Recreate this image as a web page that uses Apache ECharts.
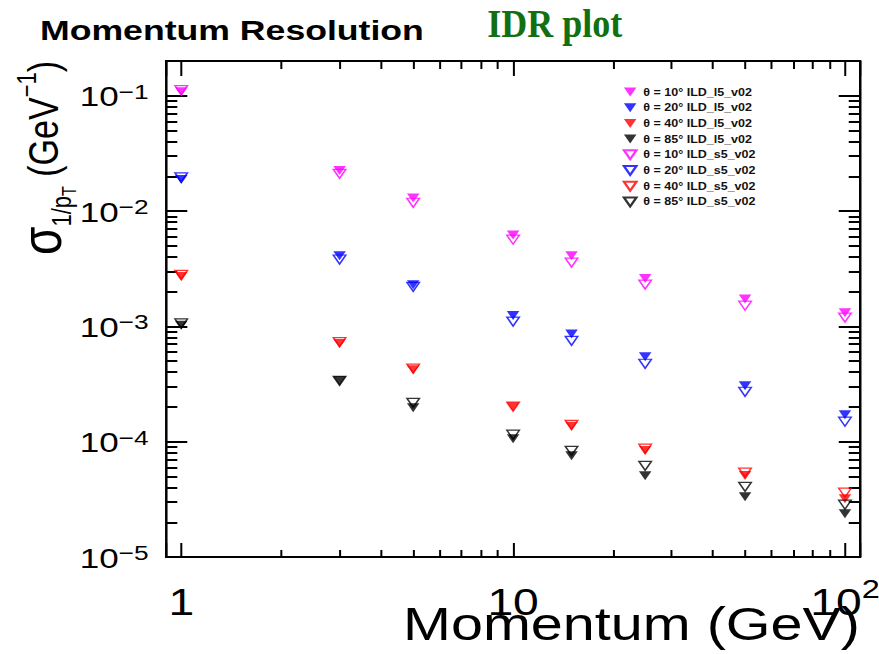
<!DOCTYPE html>
<html>
<head>
<meta charset="utf-8">
<script src="https://cdn.jsdelivr.net/npm/echarts@6/dist/echarts.min.js"></script>
<style>
  html, body { margin: 0; padding: 0; background: #ffffff; overflow: hidden; }
  #page { width: 879px; height: 654px; overflow: hidden; position: relative; background: #ffffff; }
  /* the plot is laid out on a narrower canvas and widened to the page width */
  #chart { width: 703px; height: 654px; transform: scaleX(1.25036); transform-origin: 0 0; }
</style>
</head>
<body>
<div id="page"><div id="chart"></div></div>
<script>
// Beam momentum points (GeV)
const momentum = [1, 3, 5, 10, 15, 25, 50, 100];

// sigma(1/pT) in GeV^-1, large detector model ILD_l5_v02
const l5_theta10 = [0.108, 0.0225, 0.0130, 0.0062, 0.0041, 0.0026, 0.00173, 0.00131];
const l5_theta20 = [0.0188, 0.0041, 0.0023, 0.00124, 0.00086, 0.000545, 0.000306, 0.000171];
const l5_theta40 = [0.0027, 0.00071, 0.00042, 0.000201, 0.000136, 0.000084, 0.000051, 0.000032];
const l5_theta85 = [0.00102, 0.000337, 0.000197, 0.000106, 0.0000755, 0.0000506, 0.0000333, 0.0000237];

// sigma(1/pT) in GeV^-1, small detector model ILD_s5_v02
const s5_theta10 = [0.112, 0.021, 0.0118, 0.00564, 0.00357, 0.0023, 0.00151, 0.00119];
const s5_theta20 = [0.0196, 0.0038, 0.0022, 0.0011, 0.00075, 0.000474, 0.000271, 0.000149];
const s5_theta40 = [0.0028, 0.00073, 0.00043, 0.000201, 0.00014, 0.000087, 0.000054, 0.0000361];
const s5_theta85 = [0.00106, 0.000337, 0.000217, 0.000115, 0.0000834, 0.0000618, 0.0000406, 0.0000284];

const seriesNames = [
  'θ = 10° ILD_l5_v02', 'θ = 20° ILD_l5_v02', 'θ = 40° ILD_l5_v02', 'θ = 85° ILD_l5_v02',
  'θ = 10° ILD_s5_v02', 'θ = 20° ILD_s5_v02', 'θ = 40° ILD_s5_v02', 'θ = 85° ILD_s5_v02'
];
const seriesValues = [l5_theta10, l5_theta20, l5_theta40, l5_theta85,
                      s5_theta10, s5_theta20, s5_theta40, s5_theta85];
const seriesColors = ['#ff00ff', '#0000ff', '#ff0000', '#000000',
                      '#ff00ff', '#0000ff', '#ff0000', '#000000'];
const seriesHollow = [false, false, false, false, true, true, true, true];

// Decade tick labels: [value, mantissa text, exponent text]
const xTicks = [[1, '1', ''], [10, '10', ''], [100, '10', '2']];
const yTicks = [[1e-5, '10', '\u22125'], [1e-4, '10', '\u22124'], [1e-3, '10', '\u22123'],
                [1e-2, '10', '\u22122'], [1e-1, '10', '\u22121']];

const xRange = [0.9, 111];
const yRange = [1e-5, 0.2];

const FONT = '"Liberation Sans", Arial, Helvetica, sans-serif';
const TRIANGLE_DOWN = 'path://M0,0L10,0L5,9Z';

function decadeLabel(ticks, v) {
  for (const t of ticks) {
    if (Math.abs(Math.log10(v) - Math.log10(t[0])) < 1e-6) {
      return '{b|' + t[1] + '}' + (t[2] ? '{s|' + t[2] + '}' : '');
    }
  }
  return '';
}

const chart = echarts.init(document.getElementById('chart'), null, { renderer: 'svg' });

const series = seriesNames.map((name, k) => ({
  name: name,
  type: 'scatter',
  xAxisIndex: 0,
  yAxisIndex: 0,
  data: momentum.map((p, i) => [p, seriesValues[k][i]]),
  symbol: TRIANGLE_DOWN,
  symbolSize: [10, 9],
  itemStyle: seriesHollow[k]
    ? { color: 'rgba(255,255,255,0)', borderColor: seriesColors[k], borderWidth: 1.3 }
    : { color: seriesColors[k], borderWidth: 0 },
  emphasis: { disabled: true },
  silent: true
}));

const axisLineStyle = { color: '#000', width: 2 };

chart.setOption({
  animation: false,
  backgroundColor: '#ffffff',
  textStyle: { fontFamily: FONT, color: '#000' },
  title: {
    text: 'Momentum Resolution',
    left: 32, top: 16, padding: 0,
    textStyle: { fontFamily: FONT, fontSize: 28.5, fontWeight: 'bold', color: '#000' }
  },
  graphic: [{
    type: 'text',
    x: 389.6, y: 23,
    scaleX: 0.72,
    silent: true,
    style: {
      text: 'IDR plot',
      font: 'bold 40px "Liberation Serif", "Times New Roman", serif',
      fill: '#127012',
      verticalAlign: 'middle',
      align: 'left'
    }
  }],
  legend: {
    orient: 'vertical',
    left: 498, top: 86,
    padding: 0,
    itemGap: 3.7,
    itemWidth: 11, itemHeight: 9,
    selectedMode: false,
    textStyle: { fontFamily: FONT, fontSize: 10, fontWeight: 'bold', color: '#111', lineHeight: 12 },
    data: seriesNames
  },
  grid: { left: 132.8, right: 15.2, top: 61, bottom: 97, containLabel: false, outerBoundsMode: 'none' },
  xAxis: [{
    type: 'log', logBase: 10, min: xRange[0], max: xRange[1], position: 'bottom',
    axisLine: { show: true, lineStyle: axisLineStyle },
    axisTick: { show: true, inside: true, length: 14, lineStyle: { color: '#000', width: 1.6 } },
    minorTick: { show: true, splitNumber: 9, length: 7, lineStyle: { color: '#000', width: 1.6 } },
    splitLine: { show: false },
    axisLabel: {
      show: true, margin: 19, showMinLabel: true, showMaxLabel: true,
      formatter: v => decadeLabel(xTicks, v),
      rich: {
        b: { fontFamily: FONT, fontSize: 37, lineHeight: 40, color: '#000', verticalAlign: 'top', padding: [8, 0, 0, 0] },
        s: { fontFamily: FONT, fontSize: 26, lineHeight: 28, color: '#000', verticalAlign: 'top' }
      }
    },
    name: 'Momentum (GeV)',
    nameLocation: 'end', nameGap: 0, nameMoveOverlap: false,
    nameTextStyle: { fontFamily: FONT, fontSize: 46, color: '#000', align: 'right', verticalAlign: 'top', padding: [44, 0, 0, 0] }
  }, {
    type: 'log', logBase: 10, min: xRange[0], max: xRange[1], position: 'top',
    axisLine: { show: true, lineStyle: axisLineStyle },
    axisTick: { show: true, inside: true, length: 15, lineStyle: { color: '#000', width: 1.6 } },
    minorTick: { show: true, splitNumber: 9, length: 8, lineStyle: { color: '#000', width: 1.6 } },
    splitLine: { show: false },
    axisLabel: { show: false }
  }],
  yAxis: [{
    type: 'log', logBase: 10, min: yRange[0], max: yRange[1], position: 'left',
    axisLine: { show: true, lineStyle: axisLineStyle },
    axisTick: { show: true, inside: true, length: 17, lineStyle: { color: '#000', width: 2 } },
    minorTick: { show: true, splitNumber: 9, length: 9, lineStyle: { color: '#000', width: 2 } },
    splitLine: { show: false },
    axisLabel: {
      show: true, margin: 14,
      formatter: v => decadeLabel(yTicks, v),
      rich: {
        b: { fontFamily: FONT, fontSize: 28, lineHeight: 30, color: '#000', verticalAlign: 'top', padding: [2, 0, 0, 0] },
        s: { fontFamily: FONT, fontSize: 21, lineHeight: 22, color: '#000', verticalAlign: 'top' }
      }
    },
    name: '{g|σ}{sub|1/p}{subsub|T}{b| (GeV}{sup|\u22121}{b|)}',
    nameLocation: 'end', nameRotate: 90, nameGap: 0, nameMoveOverlap: false,
    nameTextStyle: {
      align: 'right', verticalAlign: 'bottom', padding: [0, 0, 75, 0],
      rich: {
        g: { fontFamily: FONT, fontSize: 46, lineHeight: 48, color: '#000', verticalAlign: 'top' },
        sub: { fontFamily: FONT, fontSize: 22, lineHeight: 24, color: '#000', verticalAlign: 'top', padding: [28, 0, 0, 0] },
        subsub: { fontFamily: FONT, fontSize: 16, lineHeight: 18, color: '#000', verticalAlign: 'top', padding: [38, 0, 0, 0] },
        b: { fontFamily: FONT, fontSize: 34, lineHeight: 40, color: '#000', verticalAlign: 'top', padding: [8, 0, 0, 0] },
        sup: { fontFamily: FONT, fontSize: 22, lineHeight: 24, color: '#000', verticalAlign: 'top' }
      }
    }
  }, {
    type: 'log', logBase: 10, min: yRange[0], max: yRange[1], position: 'right',
    axisLine: { show: true, lineStyle: axisLineStyle },
    axisTick: { show: true, inside: true, length: 17, lineStyle: { color: '#000', width: 2 } },
    minorTick: { show: true, splitNumber: 9, length: 9, lineStyle: { color: '#000', width: 2 } },
    splitLine: { show: false },
    axisLabel: { show: false }
  }],
  series: series
});
</script>
</body>
</html>
